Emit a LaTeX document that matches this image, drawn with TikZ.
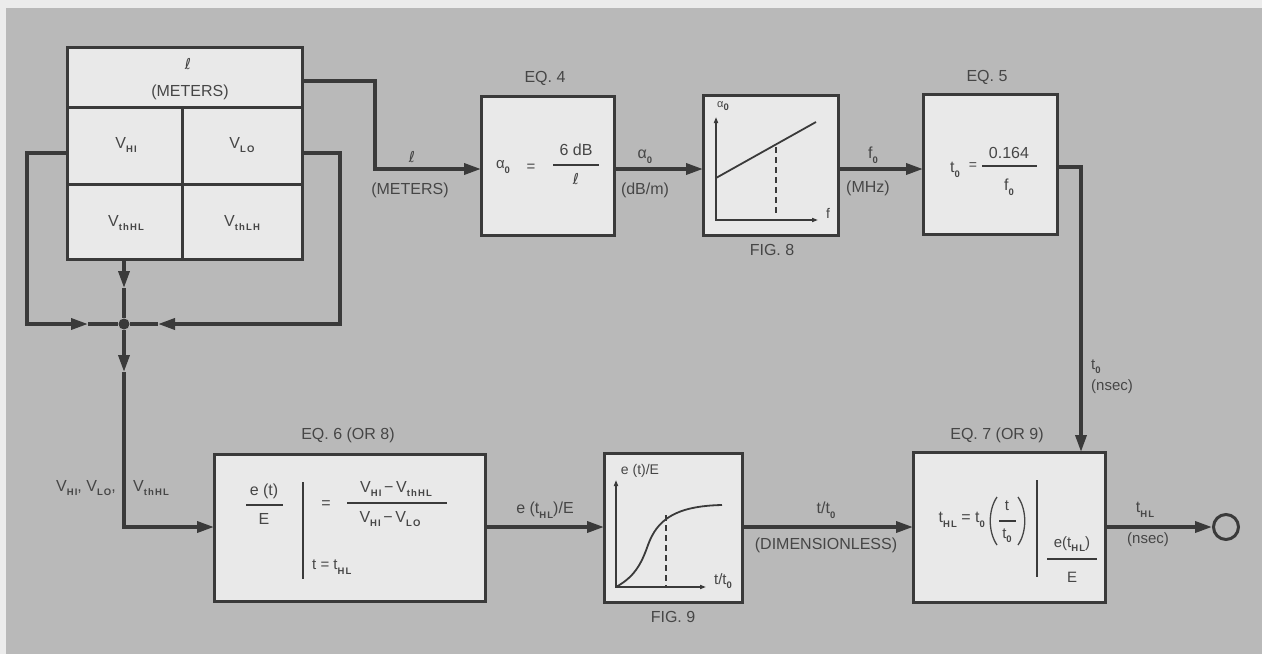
\documentclass[tikz,border=0pt]{standalone}
\usepackage{fontspec}
\setmainfont{Liberation Sans}
\newfontfamily\dvs{DejaVu Sans}
\usetikzlibrary{arrows.meta}
\definecolor{outerc}{RGB}{236,236,236}
\definecolor{bgc}{RGB}{185,185,185}
\definecolor{boxc}{RGB}{233,233,233}
\definecolor{lc}{RGB}{58,58,58}
\definecolor{tc}{RGB}{70,70,70}
\newcommand\sbs[1]{\raisebox{-0.55ex}{\fontsize{9.5}{10}\selectfont\bfseries\addfontfeature{LetterSpace=12}#1}}
\newcommand\lenl{{\dvs ℓ}}
\tikzset{
  box/.style={draw=lc, line width=3pt, fill=boxc, inner sep=0pt, outer sep=0pt, anchor=north west},
  conn/.style={draw=lc, line width=3.5pt},
  arr/.style={conn, -{Triangle[length=17pt,width=11pt]}},
  lab/.style={text=tc, inner sep=0pt, font=\fontsize{16}{18}\selectfont},
  mlab/.style={text=tc, inner sep=0pt, font=\fontsize{15}{17}\selectfont},
  slab/.style={text=tc, inner sep=0pt, font=\fontsize{14}{16}\selectfont},
  thin/.style={draw=lc, line width=1.8pt},
  bar/.style={draw=lc, line width=2pt},
  paren/.style={draw=tc, line width=1.3pt},
  dashln/.style={draw=lc, line width=1.6pt, dash pattern=on 6pt off 4pt},
}
\begin{document}
\begin{tikzpicture}[x=1pt,y=-1pt]
\useasboundingbox (0,0) rectangle (1262,654);
\fill[outerc] (0,0) rectangle (1262,654);
\fill[bgc] (6,8) rectangle (1262,654);

% ---- table of inputs
\node[box, minimum width=235pt, minimum height=60pt] (lenc) at (67,47) {};
\node[box, minimum width=115pt, minimum height=77pt] (vhi) at (67,107) {};
\node[box, minimum width=120pt, minimum height=77pt] (vlo) at (182,107) {};
\node[box, minimum width=115pt, minimum height=75pt] (vthhl) at (67,184) {};
\node[box, minimum width=120pt, minimum height=75pt] (vthlh) at (182,184) {};
\node[mlab] (tl1) at (188,64) {\lenl};
\node[lab] (tl2) at (190,92) {(METERS)};
\node[lab] (tl3) at (126,145) {V\sbs{HI}};
\node[lab] (tl4) at (242,145) {V\sbs{LO}};
\node[lab] (tl5) at (126,223) {V\sbs{thHL}};
\node[lab] (tl6) at (242,223) {V\sbs{thLH}};

% ---- top row boxes
\node[box, minimum width=133pt, minimum height=139pt] (eq4) at (481,96) {};
\node[box, minimum width=135pt, minimum height=140pt] (fig8) at (703,95) {};
\node[box, minimum width=134pt, minimum height=140pt] (eq5) at (923,94) {};
\node[lab] (eq4t) at (545,78) {EQ. 4};
\node[lab] (eq5t) at (987,77) {EQ. 5};
\node[lab] (fig8t) at (772,250) {FIG. 8};

% eq4 content
\node[mlab] (a0) at (503,167) {α\sbs{0}};
\node[mlab] (eqs1) at (531,168) {=};
\node[lab] (n6) at (576,150) {6 dB};
\draw[bar] (553,165) -- (599,165);
\node[mlab] (dl) at (576,179) {\lenl};

% fig8 content
\draw[thin, {Triangle[length=6pt,width=4pt]}-{Triangle[length=6pt,width=4pt]}] (716,117) -- (716,220) -- (818,220);
\draw[thin] (716,178) -- (816,122);
\draw[dashln] (776,147) -- (776,213);
\node[text=tc, inner sep=0pt, font=\fontsize{11}{12}\selectfont] (f8a) at (723,106) {α\sbs{0}};
\node[slab] (f8f) at (828,213) {f};

% eq5 content
\node[lab] (t0a) at (955,170) {t\sbs{0}};
\node[slab] (eqs2) at (973,166) {=};
\node[lab] (n164) at (1009,153) {0.164};
\draw[bar] (982,166) -- (1037,166);
\node[lab] (f0d) at (1009,187) {f\sbs{0}};

% ---- bottom row boxes
\node[box, minimum width=271pt, minimum height=147pt] (eq6) at (214,454) {};
\node[box, minimum width=138pt, minimum height=149pt] (fig9) at (604,453) {};
\node[box, minimum width=192pt, minimum height=150pt] (eq7) at (913,452) {};
\node[lab] (eq6t) at (348,435) {EQ. 6 (OR 8)};
\node[lab] (eq7t) at (997,435) {EQ. 7 (OR 9)};
\node[lab] (fig9t) at (673,617) {FIG. 9};
\node[circle, draw=lc, line width=3pt, minimum size=25pt, inner sep=0pt] (out) at (1226,527) {};

% eq6 content
\node[lab] (et) at (264,491) {e (t)};
\draw[bar] (246,505) -- (283,505);
\node[lab] (eE) at (264,519) {E};
\draw[bar] (303,482) -- (303,579);
\node[lab] (eqs3) at (326,505) {=};
\node[lab] (num6) at (396,489) {V\sbs{HI}\,−\,V\sbs{thHL}};
\draw[bar] (347,503) -- (447,503);
\node[lab] (den6) at (390,519) {V\sbs{HI}\,−\,V\sbs{LO}};
\node[mlab, anchor=west] (tth) at (312,567) {t = t\sbs{HL}};

% fig9 content
\draw[thin, {Triangle[length=6pt,width=4pt]}-{Triangle[length=6pt,width=4pt]}] (616,480) -- (616,587) -- (706,587);
\draw[thin] (616,587) .. controls (634,577) and (641,565) .. (648,545) .. controls (657,520) and (675,506) .. (722,505);
\draw[dashln] (666,515) -- (666,587);
\node[slab] (f9a) at (640,471) {e (t)/E};
\node[mlab] (f9b) at (723,581) {t/t\sbs{0}};

% eq7 content
\node[lab, anchor=east] (teq) at (985,520) {t\sbs{HL} = t\sbs{0}};
\draw[paren] (997,497) .. controls (988,510) and (988,532) .. (997,545);
\draw[paren] (1018,497) .. controls (1027,510) and (1027,532) .. (1018,545);
\node[mlab] (tn7) at (1007,506) {t};
\draw[bar] (999,521) -- (1016,521);
\node[mlab] (td7) at (1007,536) {t\sbs{0}};
\draw[bar] (1037,480) -- (1037,577);
\node[mlab] (n7) at (1072,544) {e(t\sbs{HL})};
\draw[bar] (1047,559) -- (1097,559);
\node[mlab] (d7) at (1072,577) {E};

% ---- connectors
\coordinate (c1) at (375,81);
\coordinate (c2) at (375,169);
\coordinate (rowA) at (0,169);
\draw[arr] (lenc.east |- c1) -- (c1) -- (c2) -- (eq4.west |- rowA);
\draw[arr] (eq4.east |- rowA) -- (fig8.west |- rowA);
\draw[arr] (fig8.east |- rowA) -- (eq5.west |- rowA);
\coordinate (v1) at (1081,167);
\draw[arr] (eq5.east |- v1) -- (v1) -- (eq7.north -| v1);

\node[circle, fill=lc, minimum size=11pt, inner sep=0pt] (jn) at (124,324) {};
\coordinate (ll1) at (27,153);
\coordinate (ll2) at (27,324);
\coordinate (lm) at (88,324);
\draw[arr] (vhi.west |- ll1) -- (ll1) -- (ll2) -- (lm);
\draw[conn] (lm) -- (jn);
\coordinate (rl1) at (340,153);
\coordinate (rl2) at (340,324);
\coordinate (rm) at (158,324);
\draw[arr] (vlo.east |- rl1) -- (rl1) -- (rl2) -- (rm);
\draw[conn] (rm) -- (jn);
\coordinate (dm) at (124,288);
\draw[arr] (vthhl.south -| jn) -- (dm);
\draw[conn] (dm) -- (jn);
\coordinate (bm) at (124,372);
\coordinate (bc) at (124,527);
\draw[arr] (jn) -- (bm);
\draw[arr] (bm) -- (bc) -- (eq6.west |- bc);
\draw[arr] (eq6.east |- bc) -- (fig9.west |- bc);
\draw[arr] (fig9.east |- bc) -- (eq7.west |- bc);
\draw[arr] (eq7.east |- bc) -- (out.west);

% ---- connector labels
\node[mlab] (l1) at (412,157) {\lenl};
\node[lab] (l2) at (410,190) {(METERS)};
\node[lab] (l3) at (645,157) {α\sbs{0}};
\node[lab] (l4) at (645,190) {(dB/m)};
\node[lab] (l5) at (873,155) {f\sbs{0}};
\node[lab] (l6) at (868,188) {(MHz)};
\node[mlab, anchor=west] (l7) at (1091,367) {t\sbs{0}};
\node[mlab, anchor=west] (l8) at (1091,387) {(nsec)};
\node[lab, anchor=east] (l9) at (116,488) {V\sbs{HI}, V\sbs{LO},};
\node[lab, anchor=west] (l10) at (133,488) {V\sbs{thHL}};
\node[lab] (l11) at (545,510) {e (t\sbs{HL})/E};
\node[lab] (l12) at (826,510) {t/t\sbs{0}};
\node[lab] (l13) at (826,545) {(DIMENSIONLESS)};
\node[lab] (l14) at (1145,510) {t\sbs{HL}};
\node[mlab] (l15) at (1148,540) {(nsec)};
\end{tikzpicture}
\end{document}
